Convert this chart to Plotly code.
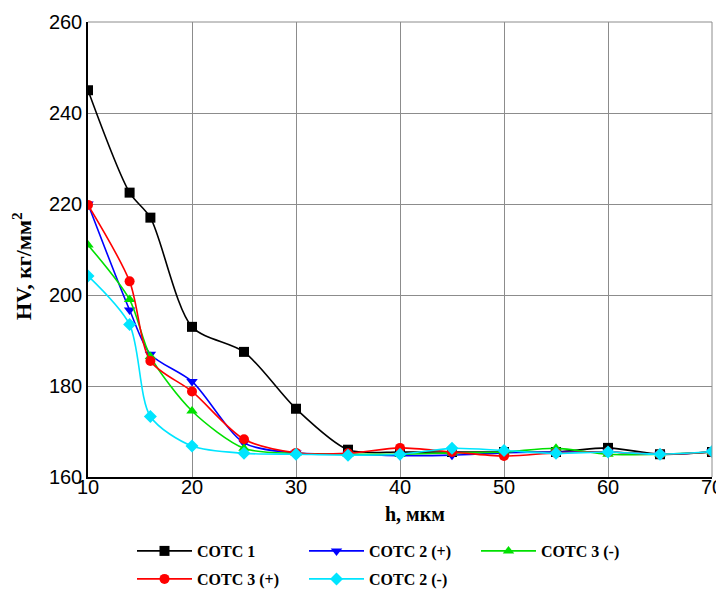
import plotly.graph_objects as go

h = [10, 14, 16, 20, 25, 30, 35, 40, 45, 50, 55, 60, 65, 70]

cotc1 = [245, 222.5, 217, 193, 187.5, 175, 166, 165.5, 165.5, 165.5, 165.5, 166.4, 165, 165.5]
cotc2_plus = [220, 196.7, 187, 181, 167.5, 165.3, 165, 164.7, 164.8, 165.3, 165.5, 165.5, 165, 165.5]
cotc3_minus = [211, 199, 186.5, 174.5, 166.3, 165.2, 165, 165, 165.3, 165.5, 166.3, 165, 165, 165.5]
cotc3_plus = [219.8, 203, 185.5, 178.8, 168.3, 165.3, 165.2, 166.4, 165.5, 164.6, 165.3, 165.5, 165, 165.5]
cotc2_minus = [204.2, 193.5, 173.3, 166.8, 165.2, 165, 164.8, 165, 166.3, 165.8, 165.2, 165.5, 165, 165.6]

x_ticks = [10, 20, 30, 40, 50, 60, 70]
y_ticks = [160, 180, 200, 220, 240, 260]

series = [
    ("COTC 1", cotc1, "black", "square", "legend"),
    ("COTC 2 (+)", cotc2_plus, "#0000ff", "triangle-down", "legend"),
    ("COTC 3 (-)", cotc3_minus, "#00e000", "triangle-up", "legend"),
    ("COTC 3 (+)", cotc3_plus, "#ff0000", "circle", "legend2"),
    ("COTC 2 (-)", cotc2_minus, "#00e5ff", "diamond", "legend2"),
]

W, H = 716, 582
L, R, T, B = 80, 12, 14, 113

fig = go.Figure()
for name, ys, col, sym, lg in series:
    fig.add_trace(go.Scatter(
        x=h, y=ys, name="<b>" + name + "</b>", mode="lines+markers",
        line=dict(color=col, width=1.6, shape="spline", smoothing=0.8),
        marker=dict(color=col, symbol=sym, size=10),
        legend=lg,
    ))

leg_common = dict(
    orientation="h",
    xref="container", xanchor="left",
    yref="container", yanchor="middle",
    entrywidth=102, entrywidthmode="pixels",
    font=dict(family="Liberation Serif", size=16, color="black"),
    itemwidth=55, bgcolor="rgba(0,0,0,0)",
)

fig.update_layout(
    width=W, height=H,
    margin=dict(l=L, r=R, t=T, b=B, autoexpand=False),
    paper_bgcolor="white", plot_bgcolor="white",
    showlegend=True,
    legend=dict(leg_common, x=124 / W, y=1 - 543 / H),
    legend2=dict(leg_common, x=124 / W, y=1 - 571 / H),
    font=dict(family="Liberation Sans", color="black"),
    xaxis=dict(
        range=[10, 70], tickvals=x_ticks,
        showgrid=True, gridcolor="#8c8c8c", gridwidth=1,
        showline=True, linecolor="black", linewidth=1.5,
        ticks="", zeroline=False, automargin=False,
        ticklabelstandoff=-9,
        tickfont=dict(family="Liberation Sans", size=20, color="black"),
    ),
    yaxis=dict(
        range=[160, 260], tickvals=y_ticks,
        showgrid=True, gridcolor="#8c8c8c", gridwidth=1,
        showline=True, linecolor="black", linewidth=1.5,
        ticks="", zeroline=False, automargin=False,
        tickfont=dict(family="Liberation Sans", size=20, color="black"),
    ),
    annotations=[
        dict(text="<b>h, мкм</b>", xref="paper", yref="paper", x=0.524, y=-0.0813,
             xanchor="center", yanchor="middle", showarrow=False,
             font=dict(family="Liberation Serif", size=20, color="black")),
        dict(text="<b>HV, кг/мм<sup>2</sup></b>", xref="paper", yref="paper", x=-0.1058, y=0.4637,
             xanchor="center", yanchor="middle", showarrow=False, textangle=-90,
             font=dict(family="Liberation Serif", size=22, color="black")),
    ],
)

fig.add_shape(type="line", xref="paper", yref="paper", x0=0, x1=1, y0=1, y1=1,
              line=dict(color="#8c8c8c", width=1))
fig.add_shape(type="line", xref="paper", yref="paper", x0=1, x1=1, y0=0, y1=1,
              line=dict(color="#8c8c8c", width=1))

fig.write_html("out.html")
